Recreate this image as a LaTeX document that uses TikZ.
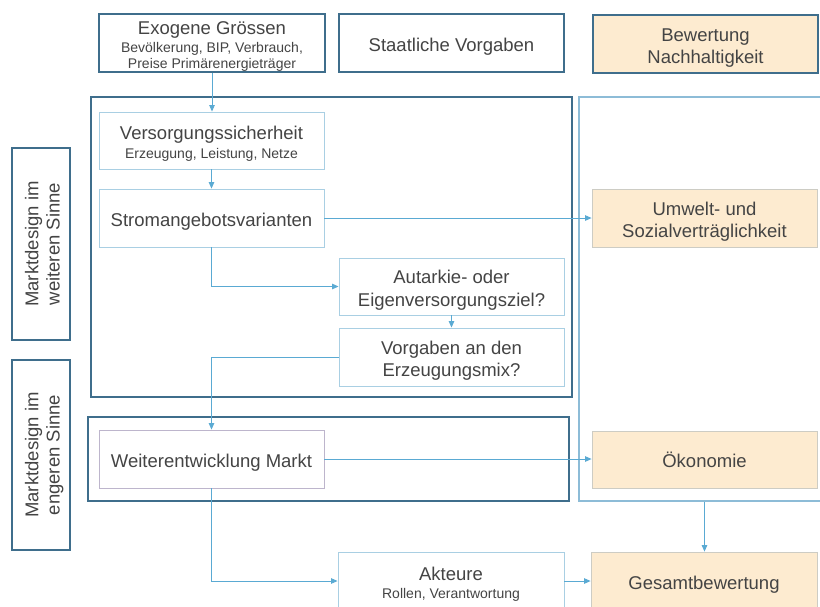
\documentclass[tikz,border=0pt]{standalone}
\usepackage{fontspec}
\setmainfont{Liberation Sans}
\usetikzlibrary{arrows.meta}
\definecolor{frame}{HTML}{3F6E8C}
\definecolor{lframe}{HTML}{A9CFE3}
\definecolor{rframe}{HTML}{8DBCD7}
\definecolor{acol}{HTML}{5AAAD3}
\definecolor{ofill}{HTML}{FDEBD0}
\definecolor{ogray}{HTML}{CDCCC4}
\definecolor{wframe}{HTML}{BDB5CC}
\definecolor{txt}{HTML}{444444}
\newcommand\fbig{\fontsize{18.5}{23}\selectfont}
\newcommand\fsmall{\fontsize{14}{16}\selectfont}
\newcommand\tst{\rule{0pt}{20pt}}
\newcommand\bst{\rule[-4pt]{0pt}{0pt}}
\tikzset{
  base/.style={inner sep=0pt, align=center, text=txt, font=\fbig},
  dbox/.style={base, draw=frame, line width=2.4pt},
  lbox/.style={base, draw=lframe, line width=0.9pt},
  obox/.style={base, fill=ofill, draw=ogray, line width=0.8pt},
  dobox/.style={base, fill=ofill, draw=frame, line width=2.4pt},
  frm/.style={draw=frame, line width=2.4pt, inner sep=0pt},
  arr/.style={draw=acol, line width=0.9pt, -{Triangle[length=6.5pt,width=5.5pt]}},
}
\begin{document}
\begin{tikzpicture}[x=1pt,y=-1pt]
\clip (0,0) rectangle (820,606);
\fill[white] (0,0) rectangle (820,606);
% frames
\node[frm, minimum width=481pt, minimum height=300pt] (fweit) at (331.5,247) {};
\node[draw=rframe, line width=1.1pt, inner sep=0pt, minimum width=251pt, minimum height=404pt] (rcont) at (704.5,299) {};
\node[frm, minimum width=481pt, minimum height=84pt] (feng) at (328.5,459) {};
% top row
\node[dbox, minimum width=226pt, minimum height=58pt] (exo) at (212,43)
  {\tst Exogene Grössen\\[-4.6pt]{\fsmall Bevölkerung, BIP, Verbrauch,}\\[-7pt]{\fsmall Preise Primärenergieträger}};
\node[dbox, minimum width=225pt, minimum height=58pt] (staat) at (451.5,43) {\tst\bst Staatliche Vorgaben};
\node[dobox, minimum width=225pt, minimum height=58pt] (bew) at (705.5,44) {\tst Bewertung\\[-1pt]Nachhaltigkeit\bst};
% left labels
\node[dbox, rotate=90, minimum width=192pt, minimum height=58pt] (lweit) at (41,244) {\tst Marktdesign im\\[-2pt]weiteren Sinne\bst};
\node[dbox, rotate=90, minimum width=190pt, minimum height=58pt] (leng) at (41,455) {\tst Marktdesign im\\[-2pt]engeren Sinne\bst};
% inner boxes
\node[lbox, minimum width=225pt, minimum height=57pt] (vs) at (211.5,140.5)
  {\tst Versorgungssicherheit\\[-4.6pt]{\fsmall Erzeugung, Leistung, Netze}};
\node[lbox, minimum width=225pt, minimum height=58pt] (strom) at (211.5,218) {\tst\bst Stromangebotsvarianten};
\node[lbox, minimum width=225pt, minimum height=57pt] (aut) at (451.5,286.5) {\tst Autarkie- oder\\Eigenversorgungsziel?\bst};
\node[lbox, minimum width=225pt, minimum height=58pt] (vorg) at (451.5,357) {\tst Vorgaben an den\\[-1pt]Erzeugungsmix?\bst};
\node[base, draw=wframe, line width=0.9pt, minimum width=225pt, minimum height=58pt] (weiter) at (211.5,459) {\tst\bst Weiterentwicklung Markt};
\node[lbox, minimum width=226pt, minimum height=58pt] (akt) at (451,581)
  {\tst Akteure\\[-5pt]{\fsmall Rollen, Verantwortung}};
% orange boxes
\node[obox, minimum width=225pt, minimum height=58pt] (umw) at (704.5,218) {\tst Umwelt- und\\[-1pt]Sozialverträglichkeit\bst};
\node[obox, minimum width=225pt, minimum height=57pt] (oek) at (704.5,459.5) {\tst\bst Ökonomie};
\node[obox, minimum width=226pt, minimum height=58pt] (ges) at (704,581) {\tst\bst Gesamtbewertung};
% connectors
\draw[arr] (exo.south) -- (exo.south |- vs.north);
\draw[arr] (vs.south) -- (strom.north);
\draw[arr] (strom.south) |- (aut.west);
\draw[arr] (strom.east) -- (umw.west);
\draw[arr] (aut.south) -- (vorg.north);
\draw[arr] (vorg.west) -| (weiter.north);
\draw[arr] (weiter.east) -- (weiter.east -| oek.west);
\draw[arr] (weiter.south) |- (akt.west);
\draw[arr] (akt.east) -- (ges.west);
\draw[arr] (rcont.south) -- (rcont.south |- ges.north);
\end{tikzpicture}
\end{document}
